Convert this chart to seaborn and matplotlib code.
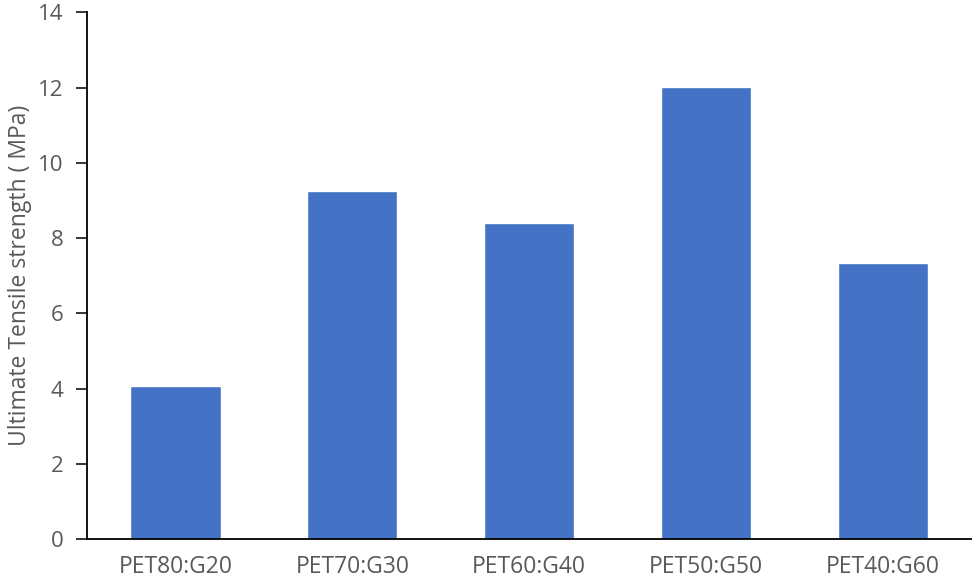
import pandas as pd
import matplotlib.pyplot as plt
import seaborn as sns

# values
mixes = ['PET80:G20', 'PET70:G30', 'PET60:G40', 'PET50:G50', 'PET40:G60']
strength = [4.07, 9.25, 8.40, 12.02, 7.33]

df = pd.DataFrame({'Mix': mixes, 'Strength': strength})

sns.set_style('white')
plt.rcParams['font.family'] = ['Open Sans', 'DejaVu Sans']

fig = plt.figure(figsize=(9.75, 5.84), dpi=100)
ax = fig.add_axes([0.0892, 0.077, 0.907, 0.902])

sns.barplot(data=df, x='Mix', y='Strength', color='#4472C4', width=0.51,
            saturation=1, ax=ax)

ax.set_ylim(0, 14)
ax.set_yticks(range(0, 15, 2))
ax.set_xlim(-0.5, 4.5)
ax.set_xlabel('')
ax.set_ylabel('Ultimate Tensile strength ( MPa)', fontsize=16.5, color='#595959',
              labelpad=4)

for side in ['top', 'right']:
    ax.spines[side].set_visible(False)
for side in ['left', 'bottom']:
    ax.spines[side].set_color('black')
    ax.spines[side].set_linewidth(1.3)

ax.tick_params(axis='y', which='both', left=True, length=8, width=1.3,
               labelsize=16, labelcolor='#595959', pad=9)
ax.tick_params(axis='x', bottom=False, labelsize=16.5, labelcolor='#595959', pad=8)

plt.savefig('out.png', dpi=100)
